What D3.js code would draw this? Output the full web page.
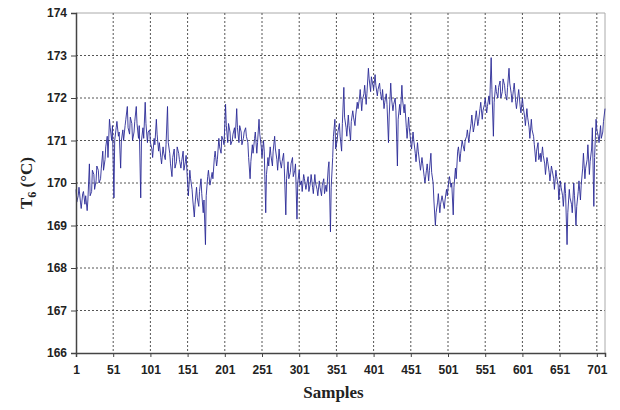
<!DOCTYPE html>
<html>
<head>
<meta charset="utf-8">
<script src="https://cdn.jsdelivr.net/npm/d3@7"></script>
<style>
  body { margin: 0; background: #fff; }
  .tick text { font-family: "Liberation Sans", Arial, sans-serif; font-weight: bold; font-size: 12px; fill: #222; }
</style>
</head>
<body>
<div id="chart"></div>
<script>
// readings at samples 1, 4, 7, ... 712
const tempsA = [
  169.85, 169.7, 169.55, 169.75, 169.5, 169.35, 170.45, 169.8, 170.2, 170.05,
  170.3, 170.1, 170.75, 170.55, 171.1, 171.5, 171.0, 169.65, 171.3, 171.1,
  170.35, 171.25, 171.35, 171.8, 171.15, 171.4, 171.2, 171.8, 171.05, 169.65,
  171.3, 171.9, 170.95, 171.25, 170.8, 171.05, 171.5, 170.75, 170.6, 170.85,
  170.55, 171.8, 170.7, 170.15, 170.8, 170.5, 170.7, 170.35, 170.75, 170.5,
  170.0, 170.3, 169.85, 169.2, 169.9, 169.45, 170.1, 169.3, 168.55, 170.15,
  169.95, 170.25, 170.6, 170.4, 171.05, 170.7, 171.0, 171.85, 170.95, 171.2,
  171.0, 171.3, 171.75, 170.95, 171.2, 171.05, 171.3, 170.95, 170.1, 170.9,
  171.05, 170.7, 171.5, 170.85, 171.0, 169.3, 170.6, 170.85, 170.4, 171.1,
  170.55, 170.8, 170.35, 170.7, 169.25, 170.5, 170.25, 170.6, 170.3, 169.15,
  170.3, 170.05, 170.2, 169.85, 170.15, 170.0, 169.9, 170.2, 169.85, 170.05,
  169.7, 170.1, 169.95, 170.35, 168.85, 170.6, 171.5, 171.0, 171.4, 170.75,
  172.25, 171.3, 171.6, 171.0, 171.7, 171.35, 171.9, 172.0, 171.7, 172.1,
  171.85, 172.7, 172.15, 172.3, 172.55, 172.05, 172.35, 171.95, 171.75, 172.1,
  170.95, 172.35, 171.7, 172.0, 170.4, 171.85, 172.3, 171.65, 171.3, 171.55,
  170.95, 171.2, 170.7, 170.95, 170.45, 170.6, 170.15, 170.3, 170.05, 170.7,
  170.0, 169.0, 169.55, 169.3, 169.7, 169.4, 169.85, 170.05, 169.9, 169.25,
  170.35, 170.75, 170.5, 171.0, 170.75, 171.1, 170.95, 171.4, 171.2, 171.55,
  171.35, 171.75, 171.5, 171.85, 171.65, 172.05, 172.95, 171.1, 172.3, 172.0,
  172.4, 172.15, 172.3, 171.95, 172.7, 172.1, 172.2, 171.9, 172.05, 171.8,
  172.0, 171.55, 171.75, 171.3, 171.5, 171.1, 170.5, 170.95, 170.7, 170.85,
  170.45, 170.6, 170.25, 170.4, 170.1, 170.3, 169.95, 170.05, 169.7, 170.0,
  168.55, 169.85, 169.5, 170.0, 169.0, 169.8, 169.6, 170.35, 170.1, 170.55,
  170.2, 170.8, 169.45, 171.5, 171.1, 171.35, 171.2, 171.75
];
// readings at samples 2, 5, 8, ... 710
const tempsB = [
  169.55, 169.9, 169.4, 169.8, 169.7, 169.6, 169.7, 170.3, 169.85, 170.4,
  170.0, 170.35, 170.3, 170.85, 170.6, 171.3, 171.35, 171.0, 171.45, 171.2,
  171.0, 171.0, 171.5, 171.3, 171.55, 171.0, 171.45, 171.4, 171.35, 171.0,
  171.05, 171.4, 171.2, 170.95, 170.6, 170.9, 171.15, 170.95, 170.45, 170.7,
  170.9, 170.95, 170.45, 170.6, 170.35, 170.85, 170.55, 170.5, 170.3, 170.65,
  169.7, 170.1, 169.6, 169.5, 169.65, 169.8, 169.75, 169.6, 169.7, 170.3,
  170.05, 170.1, 170.75, 170.55, 170.85, 171.1, 170.9, 171.35, 171.4, 170.9,
  171.15, 171.05, 171.3, 171.35, 170.9, 171.2, 171.1, 170.6, 170.5, 170.7,
  171.2, 170.95, 171.15, 170.6, 170.75, 170.2, 170.4, 170.65, 170.75, 170.8,
  170.3, 170.55, 170.5, 170.35, 170.1, 170.1, 170.45, 170.15, 170.45, 170.0,
  169.95, 169.8, 170.1, 169.95, 169.8, 170.2, 169.75, 170.0, 169.7, 169.9,
  169.95, 169.75, 169.8, 170.5, 169.9, 171.1, 170.8, 171.2, 171.1, 171.4,
  171.55, 171.1, 171.35, 171.45, 171.55, 171.6, 171.75, 172.2, 171.95, 172.3,
  172.1, 172.45, 172.5, 172.2, 172.3, 172.2, 172.15, 172.2, 171.9, 171.85,
  171.6, 172.0, 171.85, 171.7, 171.5, 171.6, 171.95, 171.85, 171.05, 171.3,
  170.8, 171.0, 170.5, 170.75, 170.3, 170.45, 170.0, 170.45, 170.3, 170.25,
  169.6, 169.3, 169.75, 169.5, 169.6, 169.6, 169.7, 170.15, 170.0, 169.9,
  170.1, 170.85, 170.7, 170.9, 171.0, 171.25, 171.15, 171.6, 171.3, 171.7,
  171.45, 171.9, 171.7, 172.0, 171.8, 171.85, 172.2, 171.9, 172.15, 172.25,
  172.0, 172.45, 172.1, 172.25, 172.35, 171.9, 172.35, 171.75, 172.2, 171.65,
  171.8, 171.35, 171.55, 171.05, 171.25, 170.9, 170.75, 170.55, 170.5, 170.65,
  170.2, 170.5, 170.05, 170.3, 169.85, 170.15, 169.6, 169.9, 169.45, 169.75,
  169.3, 169.65, 169.3, 169.7, 169.45, 170.05, 169.95, 170.7, 170.35, 170.9,
  170.5, 171.3, 170.6, 171.25, 170.95, 171.05, 171.45
];
const xTicks = [1, 51, 101, 151, 201, 251, 301, 351, 401, 451, 501, 551, 601, 651, 701];
const yTicks = [166, 167, 168, 169, 170, 171, 172, 173, 174];

const svgWidth = 620;
const svgHeight = 410;
const margin = { top: 13, right: 15, bottom: 57, left: 76 };
const width = svgWidth - margin.left - margin.right;
const height = svgHeight - margin.top - margin.bottom;

// merge both reading sets into one series ordered by sample number
const series = tempsA.map((v, i) => ({ sample: 1 + 3 * i, temp: v }))
  .concat(tempsB.map((v, i) => ({ sample: 2 + 3 * i, temp: v })))
  .sort((a, b) => a.sample - b.sample);

const svg = d3.select("#chart")
  .append("svg")
  .attr("width", svgWidth)
  .attr("height", svgHeight);

const chartGroup = svg.append("g")
  .attr("transform", `translate(${margin.left}, ${margin.top})`);

const xScale = d3.scaleLinear().domain([1, 712]).range([0, width]);
const yScale = d3.scaleLinear().domain([166, 174]).range([height, 0]);

// dotted grid
chartGroup.append("g")
  .selectAll("line")
  .data(yTicks.slice(1))
  .join("line")
  .attr("x1", 0).attr("x2", width)
  .attr("y1", d => yScale(d)).attr("y2", d => yScale(d))
  .attr("stroke", d => d === 174 ? "#aaa" : "#555")
  .attr("stroke-dasharray", d => d === 174 ? null : "2,2");

chartGroup.append("g")
  .selectAll("line")
  .data(xTicks.slice(1))
  .join("line")
  .attr("x1", d => xScale(d)).attr("x2", d => xScale(d))
  .attr("y1", 0).attr("y2", height)
  .attr("stroke", "#555")
  .attr("stroke-dasharray", "2,2");

// right border
chartGroup.append("line")
  .attr("x1", width).attr("x2", width)
  .attr("y1", 0).attr("y2", height)
  .attr("stroke", "#aaa");

// the series
const line = d3.line()
  .x(d => xScale(d.sample))
  .y(d => yScale(d.temp));

chartGroup.append("path")
  .datum(series)
  .attr("fill", "none")
  .attr("stroke", "#2a2a96")
  .attr("stroke-width", 0.9)
  .attr("d", line);

// axes
const bottomAxis = d3.axisBottom(xScale).tickValues(xTicks).tickSize(4).tickPadding(5);
const leftAxis = d3.axisLeft(yScale).tickValues(yTicks).tickSize(5).tickPadding(4);

const xAxis = chartGroup.append("g")
  .attr("transform", `translate(0, ${height})`)
  .call(bottomAxis);
const yAxis = chartGroup.append("g").call(leftAxis);

[xAxis, yAxis].forEach(a => {
  a.select(".domain").attr("stroke", "#444").attr("stroke-width", 1.5);
  a.selectAll(".tick line").attr("stroke", "#444");
});
xAxis.selectAll(".tick text").attr("dy", "1em");

// axis titles
svg.append("text")
  .attr("x", margin.left + width / 2 - 7)
  .attr("y", 398)
  .attr("text-anchor", "middle")
  .style("font-family", "'Liberation Serif', 'Times New Roman', serif")
  .style("font-weight", "bold")
  .style("font-size", "17px")
  .attr("fill", "#222")
  .text("Samples");

const yTitle = svg.append("text")
  .attr("transform", `translate(32, ${margin.top + height / 2}) rotate(-90)`)
  .attr("text-anchor", "middle")
  .style("font-family", "'Liberation Serif', 'Times New Roman', serif")
  .style("font-weight", "bold")
  .style("font-size", "17px")
  .attr("fill", "#222");
yTitle.append("tspan").text("T");
yTitle.append("tspan").attr("dy", 4).style("font-size", "12px").text("6");
yTitle.append("tspan").attr("dy", -4).text(" (°C)");
</script>
</body>
</html>
